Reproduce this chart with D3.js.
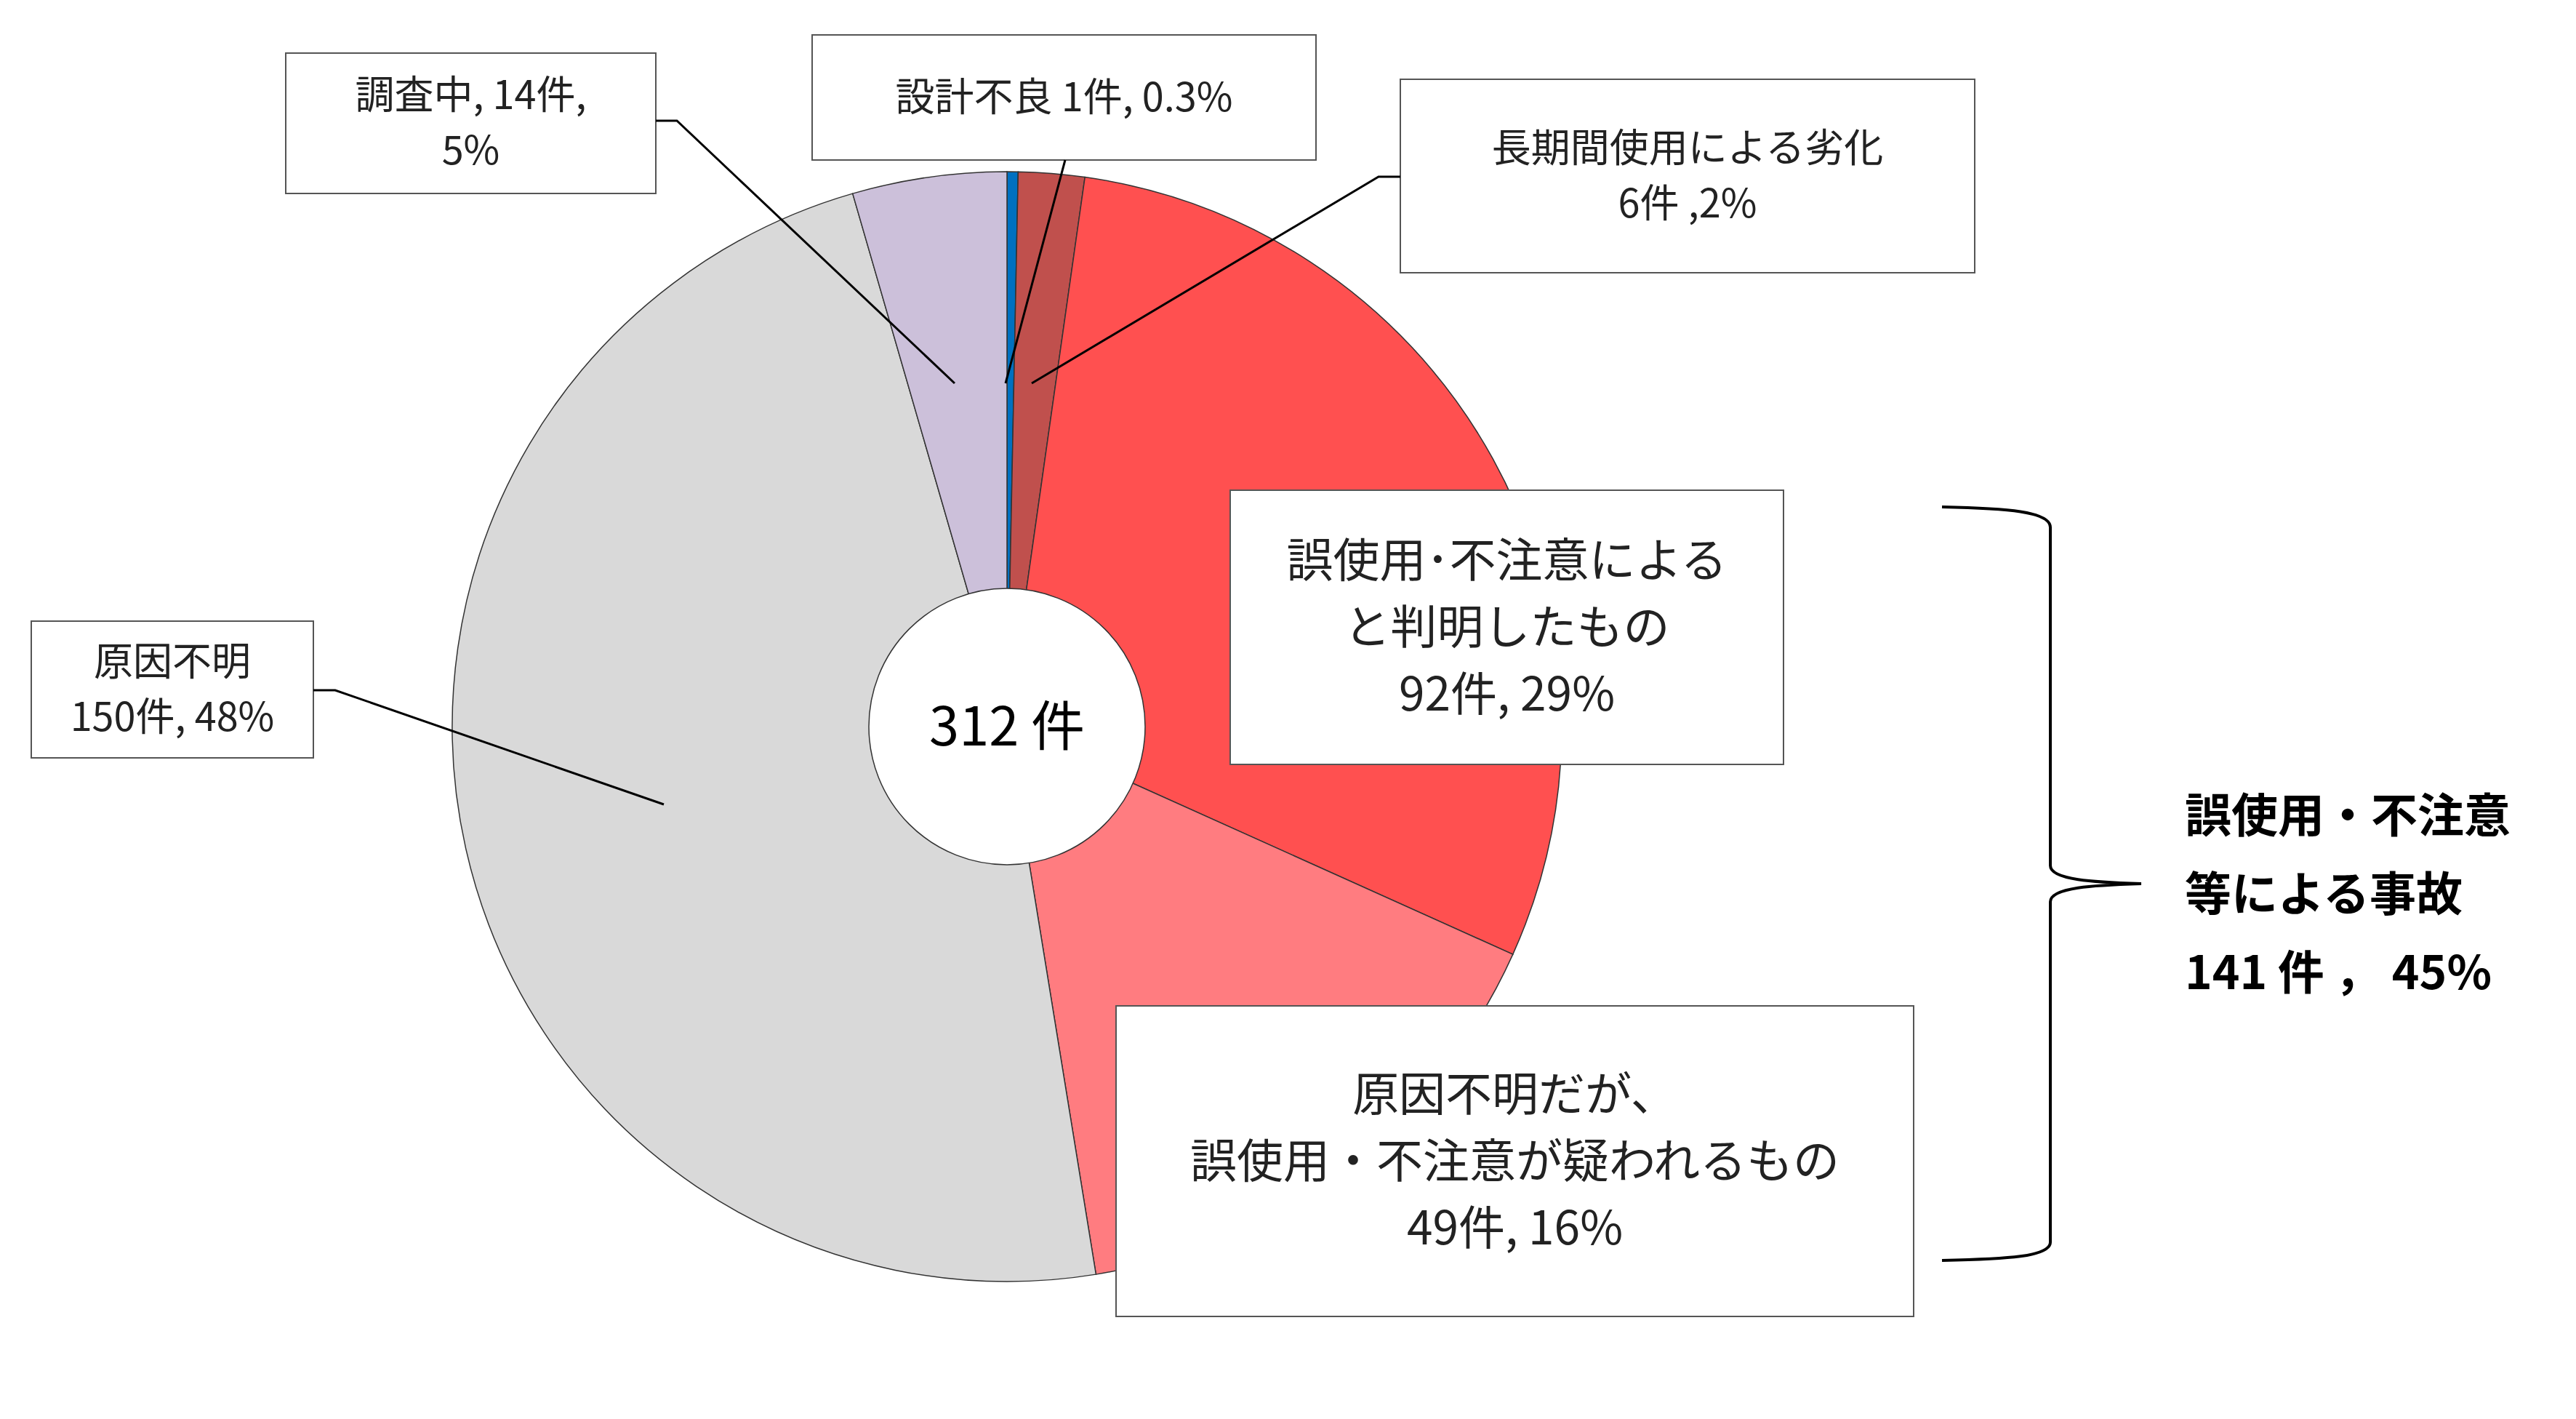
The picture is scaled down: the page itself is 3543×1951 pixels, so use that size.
<!DOCTYPE html>
<html><head><meta charset="utf-8">
<script src="https://cdn.jsdelivr.net/npm/d3@7"></script>
<style>body{margin:0;background:#fff}</style></head>
<body><svg id="c" width="3543" height="1951"></svg>
<script>
const categories=["設計不良","長期間使用による劣化","誤使用･不注意によると判明したもの","原因不明だが、誤使用・不注意が疑われるもの","原因不明","調査中"];
const counts=[1,6,92,49,150,14];
const colors=["#0070C0","#C0504D","#FF5050","#FF7C80","#D9D9D9","#CCC0DA"];
const total=312;
const svg=d3.select("#c");
const F="'Noto Sans CJK JP','Noto Sans',sans-serif";
const cx=1385,cy=999,R=763,r0=190;
const pie=d3.pie().sort(null).value(d=>d)(counts);
const arc=d3.arc().innerRadius(0).outerRadius(R);
const g=svg.append("g").attr("transform",`translate(${cx},${cy})`);
g.selectAll("path").data(pie).join("path").attr("d",arc)
 .attr("fill",(d,i)=>colors[i]).attr("stroke","#333").attr("stroke-width",1.5);
g.append("circle").attr("r",r0).attr("fill","#fff").attr("stroke","#333").attr("stroke-width",1.5);
g.append("text").attr("text-anchor","middle").attr("dy","0.35em").attr("font-family",F)
 .attr("font-size",74).text(total+" 件");

const boxes=[
 {x:1117,y:48,w:693,h:172,lines:["設計不良 1件, 0.3%"]},
 {x:1926,y:109,w:790,h:266,lines:["長期間使用による劣化","6件 ,2%"]},
 {x:1692,y:674,w:761,h:377,lines:["誤使用･不注意による","と判明したもの","92件, 29%"],fs:64,lh:92},
 {x:1535,y:1383,w:1097,h:427,lines:["原因不明だが、","誤使用・不注意が疑われるもの","49件, 16%"],fs:64,lh:92},
 {x:43,y:854,w:388,h:188,lines:["原因不明","150件, 48%"]},
 {x:393,y:73,w:509,h:193,lines:["調査中, 14件,","5%"]}
];
boxes.forEach(b=>{
 svg.append("rect").attr("x",b.x).attr("y",b.y).attr("width",b.w).attr("height",b.h)
  .attr("fill","#fff").attr("stroke","#555").attr("stroke-width",2);
 const fs=b.fs||54, lh=b.lh||76;
 const y0=b.y+b.h/2-(b.lines.length-1)*lh/2;
 b.lines.forEach((t,i)=>svg.append("text").attr("x",b.x+b.w/2).attr("y",y0+i*lh)
  .attr("dy","0.35em").attr("text-anchor","middle").attr("font-family",F).attr("font-size",fs).attr("fill","#222").text(t));
});
const leaders=[
 [[1465,220],[1383,527]],
 [[1926,243],[1896,243],[1419,527]],
 [[902,166],[931,166],[1313,527]],
 [[431,949],[461,949],[913,1106]]
];
leaders.forEach(p=>svg.append("path").attr("d",d3.line()(p)).attr("fill","none").attr("stroke","#000").attr("stroke-width",3));
// brace
svg.append("path").attr("d","M2671,697 C2760,699 2820,703 2820,725 L2820,1190 C2820,1210 2880,1213 2945,1215 C2880,1217 2820,1220 2820,1240 L2820,1708 C2820,1728 2760,1731 2671,1733")
 .attr("fill","none").attr("stroke","#000").attr("stroke-width",4);
["誤使用・不注意","等による事故","141 件 ， 45%"].forEach((t,i)=>svg.append("text").attr("x",3005).attr("y",1122+i*108)
 .attr("dy","0.35em").attr("font-family",F).attr("font-size",64).attr("font-weight","bold").text(t));
</script></body></html>
